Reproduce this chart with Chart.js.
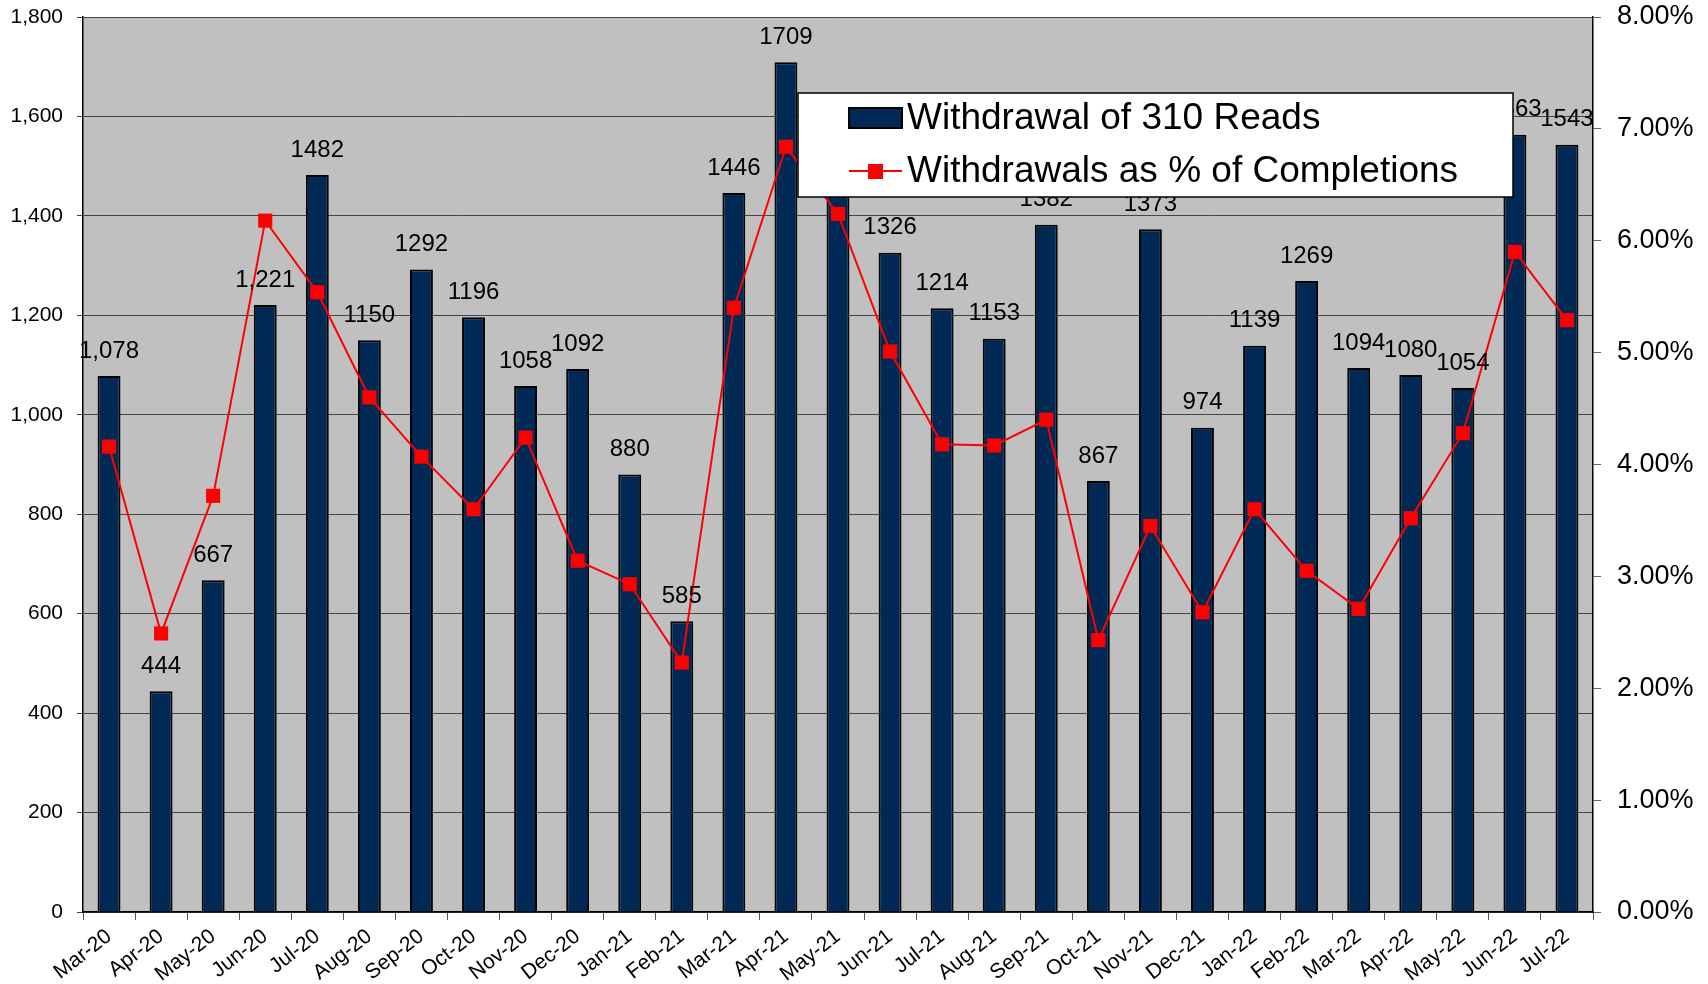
<!DOCTYPE html>
<html>
<head>
<meta charset="utf-8">
<script src="https://cdn.jsdelivr.net/npm/chart.js@4/dist/chart.umd.min.js"></script>
<style>
  html, body { margin: 0; padding: 0; background: #fff; }
  #wrap { width: 1708px; height: 984px; position: relative; }
</style>
</head>
<body>
<div id="wrap"><canvas id="chart"></canvas></div>
<script>
// months on the x axis
const months = [
  "Mar-20", "Apr-20", "May-20", "Jun-20", "Jul-20", "Aug-20", "Sep-20", "Oct-20",
  "Nov-20", "Dec-20", "Jan-21", "Feb-21", "Mar-21", "Apr-21", "May-21", "Jun-21",
  "Jul-21", "Aug-21", "Sep-21", "Oct-21", "Nov-21", "Dec-21", "Jan-22", "Feb-22",
  "Mar-22", "Apr-22", "May-22", "Jun-22", "Jul-22"
];

// withdrawal counts (bars, left axis)
const withdrawals = [
  1078, 444, 667, 1221, 1482, 1150, 1292, 1196,
  1058, 1092, 880, 585, 1446, 1709, 1510, 1326,
  1214, 1153, 1382, 867, 1373, 974, 1139, 1269,
  1094, 1080, 1054, 1563, 1543
];

// withdrawals as % of completions (line, right axis)
const pctCompletions = [
  4.16, 2.49, 3.72, 6.18, 5.54, 4.60, 4.07, 3.60,
  4.24, 3.14, 2.93, 2.23, 5.40, 6.84, 6.24, 5.01,
  4.18, 4.17, 4.40, 2.43, 3.45, 2.68, 3.60, 3.05,
  2.71, 3.52, 4.28, 5.90, 5.29
];

// the two bars whose labels carry a thousands separator in the original
const commaLabelMonths = ["Mar-20", "Jun-20"];

const seriesNames = ["Withdrawal of 310 Reads", "Withdrawals as % of Completions"];

const FONT = "'Liberation Sans', Arial, sans-serif";
const BAR_COLOR = "#002a55";
const LINE_COLOR = "#ff0000";

const plotBackground = {
  id: "plotBackground",
  beforeDraw(chart) {
    const { ctx, chartArea: a } = chart;
    ctx.save();
    ctx.fillStyle = "#c0c0c0";
    ctx.fillRect(a.left, a.top, a.right - a.left, a.bottom - a.top);
    ctx.restore();
  },
};

const barLabels = {
  id: "barLabels",
  afterDatasetsDraw(chart) {
    const { ctx } = chart;
    const meta = chart.getDatasetMeta(0);
    ctx.save();
    ctx.font = `24px ${FONT}`;
    ctx.fillStyle = "#000";
    ctx.textAlign = "center";
    ctx.textBaseline = "middle";
    meta.data.forEach((bar, i) => {
      const v = withdrawals[i];
      const text = commaLabelMonths.includes(months[i]) ? v.toLocaleString("en-US") : String(v);
      ctx.fillText(text, bar.x, bar.y - 25);
    });
    ctx.restore();
  },
};

// legend box sitting on top of the plot
const boxLegend = {
  id: "boxLegend",
  afterDraw(chart) {
    const { ctx } = chart;
    const x0 = 798, y0 = 93, x1 = 1513, y1 = 197;
    ctx.save();
    ctx.fillStyle = "#fff";
    ctx.fillRect(x0, y0, x1 - x0, y1 - y0);
    ctx.strokeStyle = "#000";
    ctx.lineWidth = 1.5;
    ctx.strokeRect(x0, y0, x1 - x0, y1 - y0);

    // bar swatch
    ctx.fillStyle = BAR_COLOR;
    ctx.fillRect(849, 108, 53, 20);
    ctx.lineWidth = 2;
    ctx.strokeStyle = "#000";
    ctx.strokeRect(849, 108, 53, 20);

    // line swatch
    ctx.strokeStyle = LINE_COLOR;
    ctx.lineWidth = 2;
    ctx.beginPath();
    ctx.moveTo(849, 171);
    ctx.lineTo(902, 171);
    ctx.stroke();
    ctx.fillStyle = LINE_COLOR;
    ctx.fillRect(868, 164, 15, 15);

    ctx.fillStyle = "#000";
    ctx.font = `37px ${FONT}`;
    ctx.textAlign = "left";
    ctx.textBaseline = "middle";
    ctx.fillText(seriesNames[0], 907, 119);
    ctx.fillText(seriesNames[1], 907, 172);
    ctx.restore();
  },
};

// pin the plot area to the same box as the original
const fixVertical = (w) => (s) => {
  s.width = w;
  s.paddingTop = 0;
  s.paddingBottom = 0;
};

new Chart(document.getElementById("chart"), {
  data: {
    labels: months,
    datasets: [
      {
        type: "bar",
        label: seriesNames[0],
        data: withdrawals,
        yAxisID: "y",
        backgroundColor: BAR_COLOR,
        borderColor: "#000",
        borderWidth: 2,
        barPercentage: 0.44,
        categoryPercentage: 1,
        order: 2,
      },
      {
        type: "line",
        label: seriesNames[1],
        data: pctCompletions,
        yAxisID: "y1",
        borderColor: LINE_COLOR,
        borderWidth: 2,
        pointStyle: "rect",
        pointRadius: 10,
        pointBackgroundColor: LINE_COLOR,
        pointBorderColor: LINE_COLOR,
        pointBorderWidth: 0,
        tension: 0,
        order: 1,
      },
    ],
  },
  options: {
    responsive: true,
    maintainAspectRatio: false,
    animation: false,
    layout: { padding: { top: 17, left: 0, right: 0, bottom: 0 } },
    plugins: {
      legend: { display: false },
      tooltip: { enabled: false },
    },
    scales: {
      x: {
        offset: true,
        grid: { offset: true, drawOnChartArea: false, drawTicks: true, tickLength: 8, color: "#555" },
        border: { display: true, color: "#000", width: 1.5 },
        ticks: {
          color: "#000",
          font: { family: FONT, size: 21 },
          maxRotation: 38,
          minRotation: 38,
          autoSkip: false,
          padding: 4,
        },
        afterFit: (s) => {
          s.height = 72;
          s.paddingLeft = 0;
          s.paddingRight = 0;
        },
      },
      y: {
        position: "left",
        min: 0,
        max: 1800,
        ticks: {
          stepSize: 200,
          color: "#000",
          font: { family: FONT, size: 21 },
          padding: 14,
          callback: (v) => v.toLocaleString("en-US"),
        },
        grid: { color: "#444", lineWidth: 1, tickLength: 6, tickColor: "#444" },
        border: { display: true, color: "#000", width: 1.5 },
        afterFit: fixVertical(83),
      },
      y1: {
        position: "right",
        min: 0,
        max: 8,
        ticks: {
          stepSize: 1,
          color: "#000",
          font: { family: FONT, size: 27 },
          padding: 16,
          callback: (v) => v.toFixed(2) + "%",
        },
        grid: { drawOnChartArea: false, drawTicks: true, tickLength: 8, tickColor: "#666" },
        border: { display: true, color: "#000", width: 1.5 },
        afterFit: fixVertical(115),
      },
    },
  },
  plugins: [plotBackground, barLabels, boxLegend],
});
</script>
</body>
</html>
